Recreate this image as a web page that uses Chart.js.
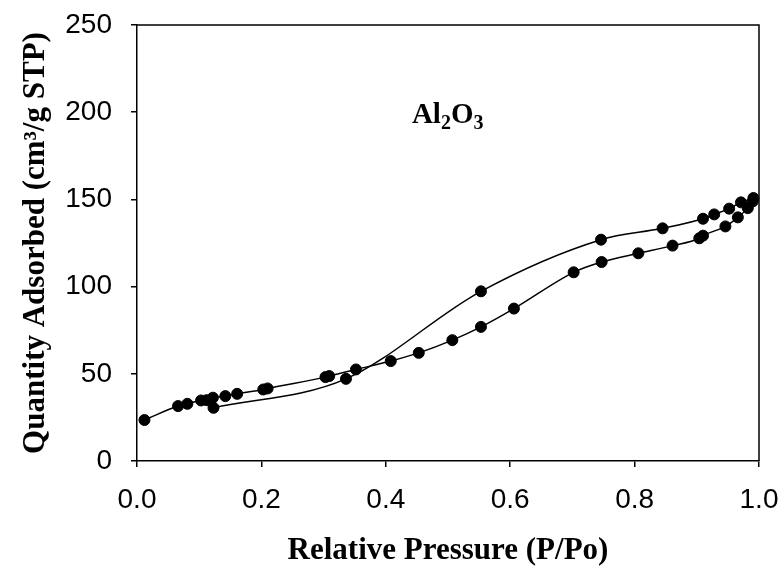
<!DOCTYPE html>
<html>
<head>
<meta charset="utf-8">
<script src="https://cdn.jsdelivr.net/npm/chart.js@4.4.0/dist/chart.umd.min.js"></script>
<style>
    html, body { margin: 0; padding: 0; background: #fff; }
</style>
</head>
<body>
<canvas id="isotherm-chart" width="784" height="570"></canvas>
<script>
// adsorption branch (P/Po vs cm3/g STP)
const adsP = [0.012, 0.066, 0.081, 0.103, 0.112, 0.122, 0.142, 0.161, 0.203, 0.210,
    0.303, 0.309, 0.352, 0.408, 0.453, 0.507, 0.553, 0.606, 0.702, 0.747,
    0.806, 0.861, 0.904, 0.910, 0.946, 0.966, 0.982, 0.990];
const adsQ = [23.5, 31.5, 32.8, 34.7, 34.9, 36.3, 37.2, 38.5, 41.0, 41.6,
    48.1, 48.7, 52.5, 57.3, 62.0, 69.3, 76.9, 87.4, 108.2, 114.1,
    119.1, 123.5, 127.7, 129.2, 134.5, 139.7, 145.0, 148.9];

// desorption branch
const desP = [0.123, 0.336, 0.553, 0.746, 0.845, 0.910, 0.928, 0.952, 0.971, 0.991];
const desQ = [30.5, 47.1, 97.3, 126.9, 133.4, 138.9, 141.4, 144.7, 148.3, 150.8];

// axis ticks
const xTickValues = [0, 0.2, 0.4, 0.6, 0.8, 1.0];
const xTickLabels = ["0.0", "0.2", "0.4", "0.6", "0.8", "1.0"];
const yTickValues = [0, 50, 100, 150, 200, 250];
const yTickLabels = ["0", "50", "100", "150", "200", "250"];

// sample label (text, subscript?) and its anchor in data units
const sampleLabel = [["Al", false], ["2", true], ["O", false], ["3", true]];
const sampleAt = { x: 0.442, y: 194 };

const toPoints = (xs, ys) => xs.map((x, i) => ({ x: x, y: ys[i] }));

// kotak penuh + label Al2O3
const frameAndLabel = {
    id: "frameAndLabel",
    afterDraw(chart) {
        const { ctx, chartArea: a, scales } = chart;
        ctx.save();
        ctx.strokeStyle = "#000";
        ctx.lineWidth = 1.5;
        ctx.beginPath();
        ctx.moveTo(a.left, a.top);
        ctx.lineTo(a.right, a.top);
        ctx.lineTo(a.right, a.bottom);
        ctx.stroke();

        let x = scales.x.getPixelForValue(sampleAt.x);
        const y = scales.y.getPixelForValue(sampleAt.y);
        ctx.fillStyle = "#000";
        ctx.textBaseline = "alphabetic";
        sampleLabel.forEach(([t, sub]) => {
            ctx.font = sub ? "bold 20px 'Liberation Serif'" : "bold 29px 'Liberation Serif'";
            ctx.fillText(t, x, sub ? y + 6 : y);
            x += ctx.measureText(t).width;
        });
        ctx.restore();
    },
};

const lineStyle = {
    showLine: true,
    cubicInterpolationMode: "monotone",
    borderColor: "#000",
    borderWidth: 1.5,
    pointRadius: 5.5,
    pointBorderWidth: 1,
    pointBackgroundColor: "#000",
    pointBorderColor: "#000",
    clip: false,
};

const tickFont = { family: "'Liberation Sans'", size: 28 };
const titleFont = { family: "'Liberation Serif'", size: 31, weight: "bold" };
const gridStyle = { drawOnChartArea: false, drawTicks: true, tickLength: 6, color: "#000", lineWidth: 1.5 };

new Chart(document.getElementById("isotherm-chart"), {
    type: "scatter",
    data: {
        datasets: [
            { label: "Adsorption", data: toPoints(adsP, adsQ), ...lineStyle },
            { label: "Desorption", data: toPoints(desP, desQ), ...lineStyle },
        ],
    },
    options: {
        responsive: false,
        animation: false,
        layout: { padding: { top: 25, right: 25, left: 0, bottom: 0 } },
        plugins: {
            legend: { display: false },
            tooltip: { enabled: false },
        },
        scales: {
            x: {
                type: "linear",
                min: 0,
                max: 1,
                afterFit: (s) => {
                    s.height = 109;
                    s.paddingLeft = 0;
                    s.paddingRight = 0;
                },
                afterBuildTicks: (s) => { s.ticks = xTickValues.map((v) => ({ value: v })); },
                ticks: {
                    callback: (v, i) => xTickLabels[i],
                    font: tickFont,
                    color: "#000",
                    padding: 16,
                    maxRotation: 0,
                    autoSkip: false,
                },
                grid: gridStyle,
                border: { display: true, color: "#000", width: 1.5 },
                title: {
                    display: true,
                    text: "Relative Pressure (P/Po)",
                    font: titleFont,
                    color: "#000",
                    padding: { top: 0, bottom: 0 },
                },
            },
            y: {
                type: "linear",
                min: 0,
                max: 250,
                afterFit: (s) => {
                    s.width = 137;
                    s.paddingTop = 0;
                    s.paddingBottom = 0;
                },
                afterBuildTicks: (s) => { s.ticks = yTickValues.map((v) => ({ value: v })); },
                ticks: {
                    callback: (v, i) => yTickLabels[i],
                    font: tickFont,
                    color: "#000",
                    padding: 19,
                    autoSkip: false,
                },
                grid: gridStyle,
                border: { display: true, color: "#000", width: 1.5 },
                title: {
                    display: true,
                    text: "Quantity Adsorbed (cm³/g STP)",
                    font: titleFont,
                    color: "#000",
                    padding: { top: 17, bottom: 0 },
                },
            },
        },
    },
    plugins: [frameAndLabel],
});
</script>
</body>
</html>
